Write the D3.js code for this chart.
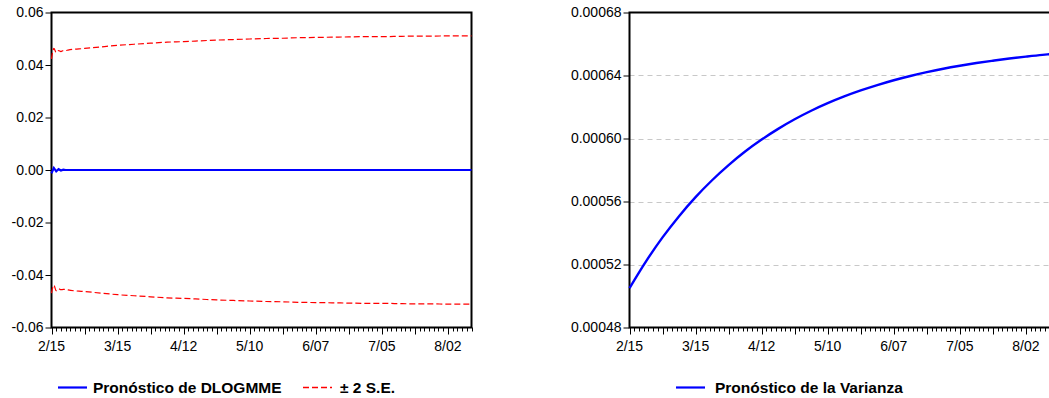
<!DOCTYPE html>
<html>
<head>
<meta charset="utf-8">
<script src="https://cdn.jsdelivr.net/npm/d3@7"></script>
<style>
  body { margin: 0; background: #fff; }
  svg { display: block; font-family: "Liberation Sans", Arial, sans-serif; }
</style>
</head>
<body>
<svg id="chart" width="1049" height="398"></svg>
<script>
// Forecast of DLOGMME with +/- 2 S.E. bands, and the variance forecast
// observations are daily, 0 = 2/15 ... 178 = 8/12

var labelObs = [0, 28, 56, 84, 112, 140, 168],
    labelText = ["2/15", "3/15", "4/12", "5/10", "6/07", "7/05", "8/02"];

// first week day by day (oscillation), then weekly readings
var bandObs = [0, 1, 2, 3, 4, 5, 6,
  7, 14, 21, 28, 35, 42, 49, 56, 63, 70, 77, 84, 91, 98, 105, 112, 119, 126,
  133, 140, 147, 154, 161, 168, 175, 178];

var forecast = [-0.0013, 0.0008, -0.0005, 0.0003, -0.0002, 0.0001, 0,
  0, 0, 0, 0, 0, 0, 0, 0, 0, 0, 0, 0, 0, 0, 0, 0, 0, 0,
  0, 0, 0, 0, 0, 0, 0, 0];

var upper = [0.0423, 0.0463, 0.0447, 0.0455, 0.0451, 0.0455, 0.0455,
  0.0457, 0.0463, 0.0469, 0.0475, 0.0479, 0.0483, 0.0487, 0.0489, 0.0492,
  0.0495, 0.0497, 0.0499, 0.0501, 0.0502, 0.0504, 0.0505, 0.0506, 0.0507,
  0.0508, 0.0508, 0.0509, 0.0510, 0.0510, 0.0511, 0.0511, 0.0511];

var lower = [-0.0469, -0.0439, -0.0460, -0.0452, -0.0456, -0.0455, -0.0455,
  -0.0457, -0.0463, -0.0469, -0.0475, -0.0479, -0.0483, -0.0487, -0.0489, -0.0492,
  -0.0495, -0.0497, -0.0499, -0.0501, -0.0502, -0.0504, -0.0505, -0.0506, -0.0507,
  -0.0508, -0.0508, -0.0509, -0.0510, -0.0510, -0.0511, -0.0511, -0.0511];

var varObs = [0, 7, 14, 21, 28, 35, 42, 49, 56, 63, 70, 77, 84, 91, 98, 105,
  112, 119, 126, 133, 140, 147, 154, 161, 168, 175, 178];

var variance = [0.0005050, 0.0005220, 0.0005372, 0.0005507, 0.0005628, 0.0005735,
  0.0005831, 0.0005917, 0.0005993, 0.0006061, 0.0006122, 0.0006176, 0.0006224,
  0.0006267, 0.0006305, 0.0006339, 0.0006370, 0.0006397, 0.0006421, 0.0006443,
  0.0006462, 0.0006479, 0.0006494, 0.0006508, 0.0006520, 0.0006531, 0.0006535];

var leftTicks = [-0.06, -0.04, -0.02, 0.00, 0.02, 0.04, 0.06],
    rightTicks = [0.00048, 0.00052, 0.00056, 0.00060, 0.00064, 0.00068];

var lastObs = 178,
    plotTop = 12.5, plotBottom = 327.5, plotW = 420;

var svg = d3.select("#chart");

function hyphen(f) {
  return d => f(d).replace("\u2212", "-");
}

function panel(left, yDomain, yTicks, fmt, grid, frameW) {
  var g = svg.append("g");
  var x = d3.scaleLinear().domain([0, lastObs]).range([left, left + plotW]),
      y = d3.scaleLinear().domain(yDomain).range([plotBottom, plotTop]);

  if (grid) {
    g.append("g").selectAll("line")
        .data(yTicks.slice(1, -1))
      .join("line")
        .attr("x1", left).attr("x2", left + frameW)
        .attr("y1", d => Math.round(y(d)) + 0.5).attr("y2", d => Math.round(y(d)) + 0.5)
        .attr("stroke", "#c8c8c8")
        .attr("stroke-dasharray", "5,4");
  }

  // y axis
  var ya = g.append("g")
      .attr("transform", "translate(" + left + ",0)")
      .call(d3.axisLeft(y).tickValues(yTicks).tickFormat(hyphen(fmt)).tickSize(6).tickPadding(2).tickSizeOuter(0));
  ya.select(".domain").remove();
  ya.selectAll("text").attr("font-size", 14).attr("fill", "#000").attr("font-family", "Liberation Sans, Arial");
  ya.selectAll("line").attr("stroke", "#000");

  // x axis: minor every 2 obs, medium every 14, labels every 28
  var minor = d3.range(0, lastObs + 1, 2),
      mid = d3.range(0, lastObs + 1, 14);
  g.append("g").selectAll("line")
      .data(minor)
    .join("line")
      .attr("x1", d => Math.round(x(d)) + 0.5).attr("x2", d => Math.round(x(d)) + 0.5)
      .attr("y1", plotBottom).attr("y2", plotBottom + 4)
      .attr("stroke", "#000");
  g.append("g").selectAll("line")
      .data(mid)
    .join("line")
      .attr("x1", d => Math.round(x(d)) + 0.5).attr("x2", d => Math.round(x(d)) + 0.5)
      .attr("y1", plotBottom).attr("y2", plotBottom + 7)
      .attr("stroke", "#000");
  g.append("g").selectAll("text")
      .data(labelObs)
    .join("text")
      .attr("x", d => x(d))
      .attr("y", plotBottom + 23)
      .attr("text-anchor", "middle")
      .attr("font-size", 14)
      .text((d, i) => labelText[i]);

  // frame
  g.append("rect")
      .attr("x", left).attr("y", plotTop)
      .attr("width", frameW).attr("height", plotBottom - plotTop)
      .attr("fill", "none")
      .attr("stroke", "#000")
      .attr("stroke-width", 2);

  return {g: g, x: x, y: y};
}

// left panel
var L = panel(51.5, [-0.06, 0.06], leftTicks, d3.format(".2f"), false, plotW);
var lineL = d3.line().x(d => L.x(d[0])).y(d => L.y(d[1])).curve(d3.curveMonotoneX);

L.g.append("path")
    .attr("d", lineL(d3.zip(bandObs, upper)))
    .attr("fill", "none").attr("stroke", "#ff0000").attr("stroke-width", 1.2)
    .attr("stroke-dasharray", "6,3");
L.g.append("path")
    .attr("d", lineL(d3.zip(bandObs, lower)))
    .attr("fill", "none").attr("stroke", "#ff0000").attr("stroke-width", 1.2)
    .attr("stroke-dasharray", "6,3");
L.g.append("path")
    .attr("d", d3.line().x(d => L.x(d[0])).y(d => L.y(d[1]))(d3.zip(bandObs, forecast)))
    .attr("fill", "none").attr("stroke", "#0000ff").attr("stroke-width", 2.2);

// right panel (cut by the window on the right)
var R = panel(629.5, [0.00048, 0.00068], rightTicks, d3.format(".5f"), true, plotW + 4);
var lineR = d3.line().x(d => R.x(d[0])).y(d => R.y(d[1])).curve(d3.curveMonotoneX);
R.g.append("path")
    .attr("d", lineR(d3.zip(varObs, variance)))
    .attr("fill", "none").attr("stroke", "#0000ff").attr("stroke-width", 2.4);

// legends
function legendItem(x0, gap, text, color, dash) {
  var lg = svg.append("g");
  lg.append("line")
      .attr("x1", x0).attr("x2", x0 + 29)
      .attr("y1", 387.5).attr("y2", 387.5)
      .attr("stroke", color).attr("stroke-width", dash ? 1.5 : 2.2)
      .attr("stroke-dasharray", dash ? "6,3" : null);
  lg.append("text")
      .attr("x", x0 + gap).attr("y", 393)
      .attr("font-size", 15.5).attr("font-weight", "bold")
      .text(text);
}
legendItem(58, 35, "Pronóstico de DLOGMME", "#0000ff", false);
legendItem(303, 37, "± 2 S.E.", "#ff0000", true);
legendItem(676, 39, "Pronóstico de la Varianza", "#0000ff", false);
</script>
</body>
</html>
